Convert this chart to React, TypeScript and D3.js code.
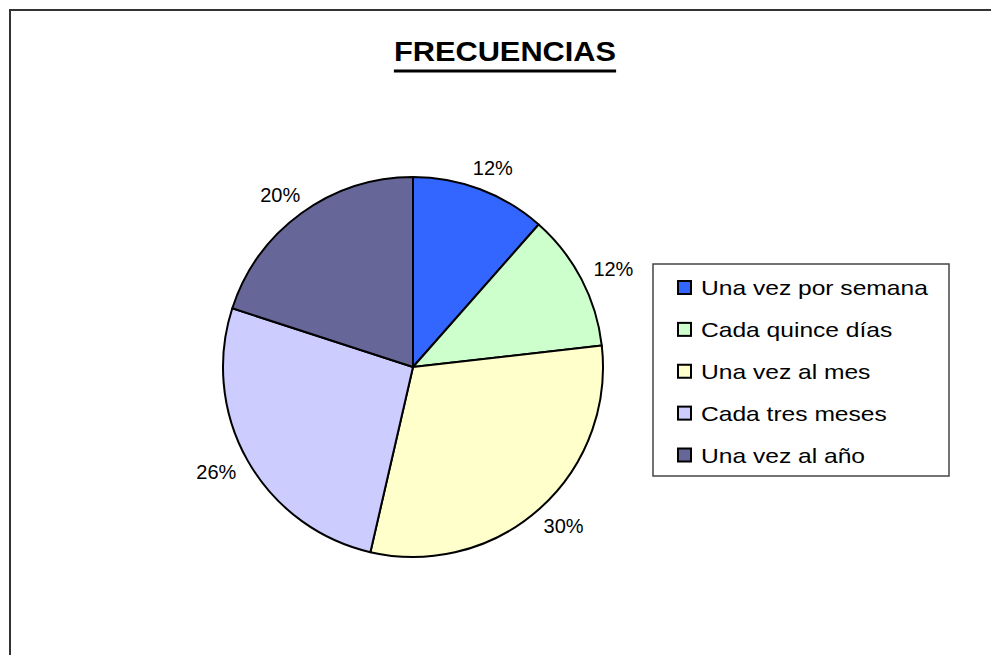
import React, { useEffect, useRef } from "react";
import * as d3 from "d3";

const title = "FRECUENCIAS";
const categories = [
  "Una vez por semana",
  "Cada quince días",
  "Una vez al mes",
  "Cada tres meses",
  "Una vez al año",
];
const values = [11.5, 11.7, 30.4, 26.4, 20.0];
const colors = ["#3366FF", "#CCFFCC", "#FFFFCC", "#CCCCFF", "#666699"];

const FONT = "'Liberation Sans', Arial, Helvetica, sans-serif";

export default function App() {
  const ref = useRef<SVGSVGElement | null>(null);

  useEffect(() => {
    const svg = d3.select(ref.current);
    svg.selectAll("*").remove();
    const W = 991, H = 655;

    svg.append("rect").attr("width", W).attr("height", H).attr("fill", "#fff");

    // outer border (only top and left visible)
    svg.append("path")
      .attr("d", `M10,${H} V10 H${W}`)
      .attr("fill", "none")
      .attr("stroke", "#333")
      .attr("stroke-width", 2);

    // title
    const tx = 505;
    const sx = 1.14;
    const tg = svg.append("g").attr("transform", `translate(${tx},61) scale(${sx},1)`);
    const tt = tg.append("text")
      .attr("x", 0).attr("y", 0)
      .attr("text-anchor", "middle")
      .attr("font-family", FONT)
      .attr("font-weight", "bold")
      .attr("font-size", 27)
      .attr("fill", "#000")
      .text(title);
    const tw = (tt.node() as SVGTextElement).getComputedTextLength() * sx;
    svg.append("rect")
      .attr("x", tx - tw / 2).attr("y", 69.5)
      .attr("width", tw).attr("height", 3)
      .attr("fill", "#000");

    // pie
    const cx = 413, cy = 367, r = 190;
    const total = d3.sum(values);
    const pie = d3.pie<number>().sort(null).value((d) => d);
    const arcs = pie(values);
    const arc = d3.arc<d3.PieArcDatum<number>>().innerRadius(0).outerRadius(r);
    const g = svg.append("g").attr("transform", `translate(${cx},${cy})`);
    g.selectAll("path.slice")
      .data(arcs)
      .enter()
      .append("path")
      .attr("class", "slice")
      .attr("d", arc as any)
      .attr("fill", (_d, i) => colors[i])
      .attr("stroke", "#000")
      .attr("stroke-width", 2)
      .attr("stroke-linejoin", "round");

    // labels: anchored outside the slice, box pushed outward (Excel style)
    const R = 205, bw = 42, bh = 16;
    g.selectAll("text.lbl")
      .data(arcs)
      .enter()
      .append("text")
      .attr("class", "lbl")
      .attr("transform", (d) => {
        const a = (d.startAngle + d.endAngle) / 2;
        const px = R * Math.sin(a) + (bw / 2) * Math.sin(a);
        const py = -R * Math.cos(a) - (bh / 2) * Math.cos(a);
        return `translate(${px},${py + 7})`;
      })
      .attr("text-anchor", "middle")
      .attr("font-family", FONT)
      .attr("font-size", 20)
      .attr("fill", "#000")
      .text((d) => `${Math.round((d.data / total) * 100)}%`);

    // legend
    const lx = 653, ly = 264, lw = 296, lh = 212;
    svg.append("rect")
      .attr("x", lx).attr("y", ly).attr("width", lw).attr("height", lh)
      .attr("fill", "#fff")
      .attr("stroke", "#444")
      .attr("stroke-width", 1.5);
    const rowY = d3.scaleLinear().domain([0, categories.length - 1]).range([287.5, 455]);
    const items = svg.append("g")
      .selectAll("g")
      .data(categories)
      .enter()
      .append("g")
      .attr("transform", (_d, i) => `translate(0,${rowY(i)})`);
    items.append("rect")
      .attr("x", 678).attr("y", -6.5)
      .attr("width", 13).attr("height", 13)
      .attr("fill", (_d, i) => colors[i])
      .attr("stroke", "#000")
      .attr("stroke-width", 2);
    items.append("text")
      .attr("transform", "translate(701,7.5) scale(1.2,1)")
      .attr("font-family", FONT)
      .attr("font-size", 20.5)
      .attr("fill", "#000")
      .text((d) => d);
  }, []);

  return (
    <svg
      ref={ref}
      width={991}
      height={655}
      style={{ position: "absolute", left: 0, top: 0, display: "block" }}
    />
  );
}
